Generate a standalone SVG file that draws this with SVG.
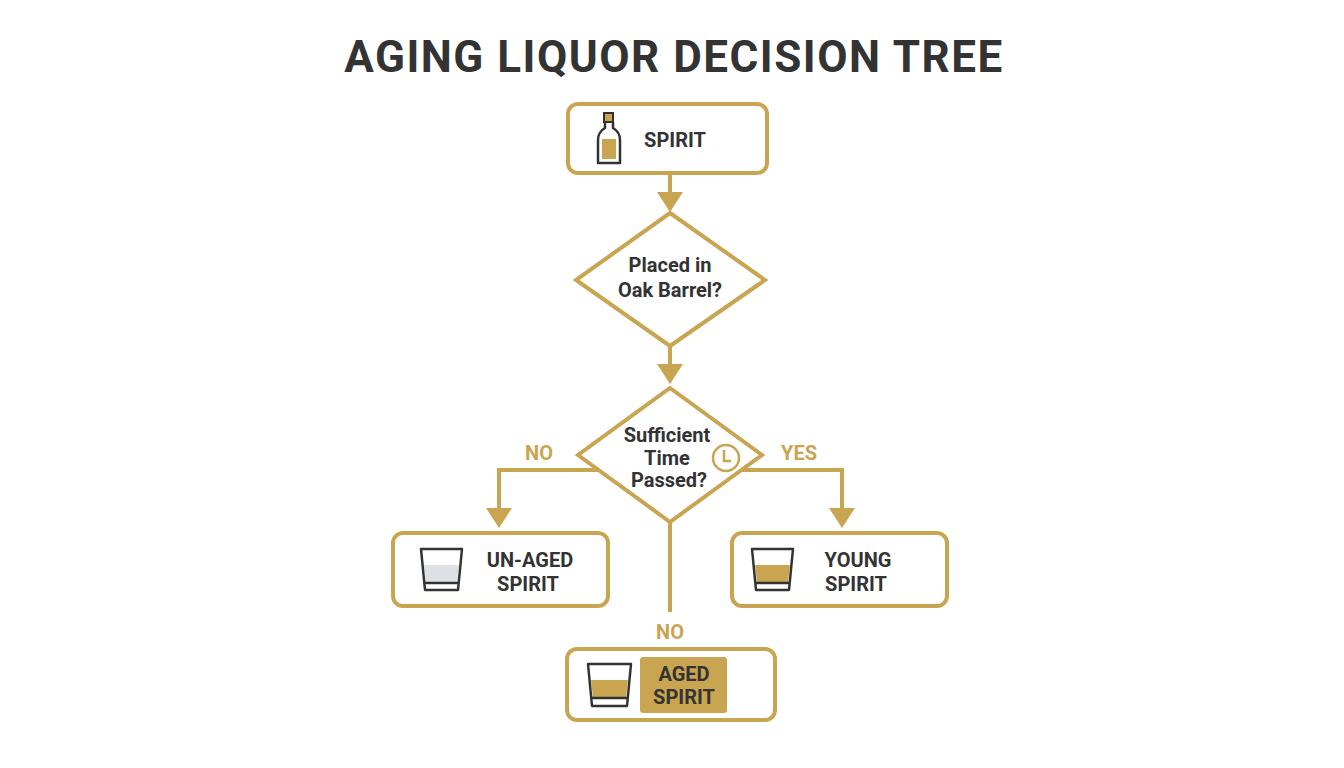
<svg xmlns="http://www.w3.org/2000/svg" width="1344" height="768" viewBox="0 0 1344 768">
<style>
.box{fill:#fff;stroke:#c9a552;stroke-width:4}
.ln{fill:none;stroke:#c9a552;stroke-width:4}
.t{font-family:Roboto,"Liberation Sans",sans-serif;font-weight:bold;fill:#333;text-anchor:middle}
.lb{font-family:Roboto,"Liberation Sans",sans-serif;font-weight:bold;fill:#c9a552;font-size:20px;text-anchor:middle}
.ic{fill:none;stroke:#333;stroke-width:2.5;stroke-linejoin:round}
</style>
<defs>
<path id="ah2" d="M-13,0L13,0L0,20z" fill="#c9a552"/>
</defs>
<rect width="1344" height="768" fill="#fff"/>
<text x="674" y="72" class="t" font-size="44" letter-spacing="1.5">AGING LIQUOR DECISION TREE</text>
<g id="connectors">
<line class="ln" x1="670" y1="174" x2="670" y2="195"/><use href="#ah2" x="670" y="192"/>
<line class="ln" x1="670" y1="346" x2="670" y2="366"/><use href="#ah2" x="670" y="364"/>
<polyline class="ln" points="600,470 499,470 499,512"/><use href="#ah2" x="499" y="508"/>
<polyline class="ln" points="740,470 842,470 842,512"/><use href="#ah2" x="842" y="508"/>
<line class="ln" x1="670" y1="522" x2="670" y2="612"/>
<text x="539" y="460" class="lb">NO</text>
<text x="799" y="460" class="lb">YES</text>
<text x="670" y="639" class="lb">NO</text>
</g>
<g id="spirit">
<rect class="box" x="568" y="104" width="199" height="69" rx="10"/>
<rect x="604" y="113" width="9" height="9" fill="#c9a552" stroke="#333" stroke-width="2"/>
<path class="ic" d="M605,122 L605,128 Q598,132 598,140 L598,163 L620,163 L620,140 Q620,132 613,128 L613,122"/>
<rect x="602" y="139" width="14" height="20" fill="#c9a552"/>
<text x="675" y="147" class="t" font-size="20">SPIRIT</text>
</g>
<g id="oak">
<polygon class="box" points="670,213 765,280 670,346 576,280"/>
<text x="670" y="272" class="t" font-size="20">Placed in</text>
<text x="670" y="297" class="t" font-size="20">Oak Barrel?</text>
</g>
<g id="time">
<polygon class="box" points="670,388 762,455 670,522 578,455"/>
<text x="667" y="442" class="t" font-size="20">Sufficient</text>
<text x="667" y="465" class="t" font-size="20">Time</text>
<text x="669" y="487" class="t" font-size="20">Passed?</text>
<circle cx="726" cy="458" r="13" fill="#fff" stroke="#c9a552" stroke-width="2.5"/>
<polyline points="724,450 724,461 731,461" fill="none" stroke="#c9a552" stroke-width="2.5"/>
</g>
<g id="unaged">
<rect class="box" x="393" y="533" width="215" height="73" rx="10"/>
<path d="M424,565 L459,565 L457,583 L426,583Z" fill="#dde0e4"/>
<path class="ic" d="M421,549 L462,549 L458,590 L425,590 Z M425,583 L458,583"/>
<text x="530" y="567" class="t" font-size="20">UN-AGED</text>
<text x="528" y="591" class="t" font-size="20">SPIRIT</text>
</g>
<g id="young">
<rect class="box" x="732" y="533" width="215" height="73" rx="10"/>
<path d="M755,565 L790,565 L788,583 L757,583Z" fill="#c9a552"/>
<path class="ic" d="M752,549 L793,549 L789,590 L756,590 Z M756,583 L789,583"/>
<text x="858" y="567" class="t" font-size="20">YOUNG</text>
<text x="856" y="591" class="t" font-size="20">SPIRIT</text>
</g>
<g id="aged">
<rect class="box" x="567" y="649" width="208" height="71" rx="10"/>
<path d="M591,680 L628,680 L626,698 L593,698Z" fill="#c9a552"/>
<path class="ic" d="M588,664 L631,664 L627,706 L592,706 Z M592,698 L627,698"/>
<rect x="640" y="657" width="87" height="56" rx="3" fill="#c9a552"/>
<text x="684" y="681" class="t" font-size="20">AGED</text>
<text x="684" y="704" class="t" font-size="20">SPIRIT</text>
</g>
</svg>
